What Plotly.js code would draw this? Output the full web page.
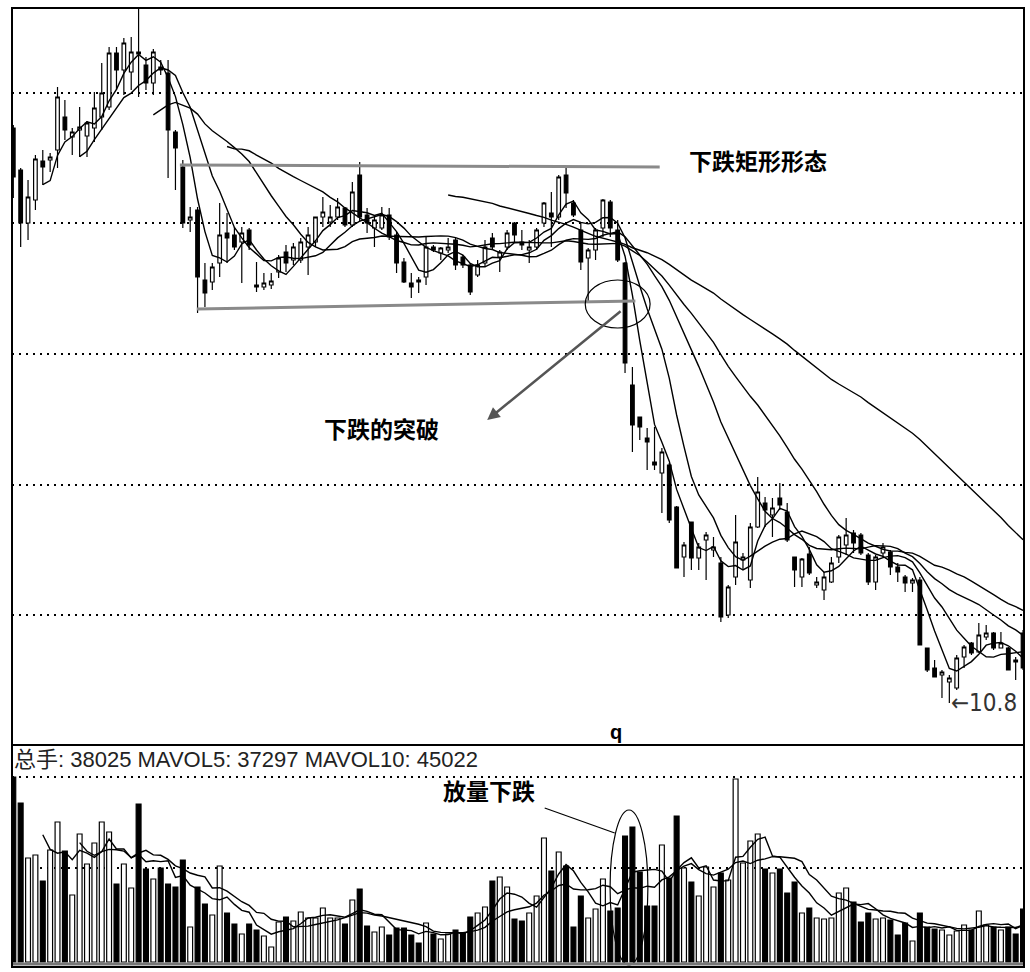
<!DOCTYPE html>
<html>
<head>
<meta charset="utf-8">
<script src="https://cdn.plot.ly/plotly-3.0.1.min.js"></script>
<style>html,body{margin:0;padding:0;background:#fff}</style>
</head>
<body>
<div id="chart" style="width:1030px;height:972px"></div>
<script>
// ---- data ----
const openP = [
16.55,16.13,15.60,15.83,16.22,16.23,16.33,16.66,16.46,16.53,
16.47,16.55,16.66,16.76,17.30,17.13,17.11,17.31,17.18,17.00,
17.16,17.10,16.51,16.16,15.63,15.73,15.03,15.01,15.20,15.50,
15.48,15.41,15.53,14.98,14.96,14.98,15.11,15.31,15.23,15.23,
15.36,15.41,15.66,15.61,15.66,15.75,15.58,16.08,15.68,15.55,
15.55,15.68,15.48,15.21,15.00,15.03,15.06,15.36,15.30,15.33,
15.43,15.26,15.18,15.08,15.20,15.45,15.26,15.36,15.60,15.41,
15.33,15.36,15.60,15.70,15.66,16.08,15.80,15.53,15.25,15.33,
15.55,15.81,15.53,15.20,13.98,13.66,13.45,13.21,13.10,13.18,
12.76,12.26,12.61,12.25,12.43,12.33,12.20,11.68,12.06,12.23,
12.03,12.56,12.80,12.68,12.85,12.71,12.26,12.06,12.29,11.98,
11.93,12.01,12.26,12.38,12.50,12.48,12.28,12.01,12.30,12.31,
12.16,12.06,12.00,12.03,11.35,11.15,11.08,11.01,10.95,11.26,
11.40,11.31,11.46,11.50,11.35,11.35,11.23,11.50];
const highP = [
16.58,16.15,16.03,16.28,16.33,16.30,16.96,16.83,16.55,16.76,
16.62,16.91,17.20,17.36,17.36,17.45,17.46,17.75,17.26,17.34,
17.23,17.23,16.53,16.23,15.76,15.76,15.20,15.20,15.80,15.70,
15.56,15.56,15.55,15.21,15.10,15.10,15.28,15.38,15.40,15.45,
15.56,15.66,15.86,15.78,15.85,15.76,16.01,16.21,15.75,15.66,
15.76,15.75,15.51,15.25,15.10,15.06,15.46,15.38,15.36,15.45,
15.45,15.28,15.20,15.23,15.43,15.50,15.33,15.53,15.61,15.53,
15.43,15.55,15.81,15.91,16.08,16.15,15.83,15.61,15.35,15.55,
15.84,15.83,15.63,15.21,14.16,13.66,13.55,13.56,13.35,13.20,
12.77,12.41,12.61,12.40,12.51,12.46,12.26,11.98,12.68,12.30,
12.60,13.06,12.86,12.85,13.00,12.80,12.26,12.25,12.36,12.06,
12.11,12.26,12.48,12.65,12.53,12.50,12.30,12.28,12.40,12.33,
12.20,12.08,12.05,12.06,11.35,11.23,11.13,11.08,11.28,11.38,
11.41,11.60,11.58,11.51,11.51,11.36,11.26,11.53];
const lowP = [
15.85,15.36,15.43,15.73,15.98,16.11,16.15,16.43,16.28,16.26,
16.26,16.41,16.53,16.73,16.93,16.88,16.93,16.86,16.93,16.88,
17.08,16.05,15.93,15.55,15.51,14.70,14.76,14.93,15.06,15.20,
15.33,15.00,15.33,14.91,14.93,14.94,15.05,15.11,15.18,15.20,
15.08,15.36,15.56,15.56,15.63,15.56,15.56,15.61,15.50,15.36,
15.53,15.43,15.10,15.00,14.85,14.90,14.98,15.31,15.23,15.30,
15.13,15.15,14.88,15.06,15.16,15.33,15.11,15.33,15.40,15.33,
15.20,15.33,15.56,15.36,15.63,15.75,15.66,15.13,14.81,15.23,
15.46,15.46,15.21,14.10,13.31,13.43,13.13,13.13,12.70,12.60,
12.15,12.06,12.13,12.13,12.03,12.26,11.61,11.65,11.98,12.13,
11.95,12.55,12.56,12.46,12.73,12.41,11.96,11.96,12.08,11.95,
11.83,12.00,12.20,12.28,12.30,12.28,11.98,11.93,12.26,12.08,
12.01,11.91,11.91,11.38,11.11,11.06,10.85,10.80,10.93,11.15,
11.28,11.30,11.43,11.33,11.35,11.13,11.03,11.13];
const closeP = [
16.06,15.60,15.86,16.24,16.16,16.26,16.86,16.53,16.51,16.56,
16.60,16.75,16.90,17.30,17.13,17.40,17.31,17.29,17.00,17.31,
17.13,16.53,16.35,15.60,15.66,15.06,14.90,15.16,15.48,15.45,
15.36,15.50,15.38,14.96,15.00,15.02,15.25,15.20,15.36,15.41,
15.48,15.66,15.71,15.66,15.76,15.58,15.91,15.66,15.60,15.63,
15.68,15.46,15.20,15.01,14.96,15.01,15.36,15.33,15.35,15.36,
15.18,15.18,14.91,15.18,15.36,15.36,15.31,15.50,15.48,15.38,
15.36,15.53,15.80,15.66,16.06,15.90,15.68,15.21,15.33,15.53,
15.83,15.55,15.23,14.20,13.58,13.56,13.41,13.18,13.31,12.63,
12.15,12.38,12.25,12.36,12.48,12.36,11.66,11.96,12.41,12.26,
12.56,12.91,12.73,12.75,12.78,12.43,12.13,12.24,12.10,12.01,
12.06,12.20,12.46,12.48,12.40,12.30,12.01,12.26,12.36,12.16,
12.11,12.00,12.03,11.38,11.13,11.06,11.11,11.05,11.25,11.36,
11.30,11.48,11.50,11.35,11.40,11.13,11.21,11.15];
const volume = [
133200,114480,74880,77040,58320,80640,100800,79920,48240,92160,
70560,85680,100800,93600,56160,70560,53280,113760,66960,59760,
67680,56160,54000,73440,25200,54000,41760,33840,69120,35280,
27360,20160,27360,23040,18720,10800,28800,32400,29520,36000,
31680,31680,38880,31680,31680,27360,44640,52560,25920,21600,
25200,19440,24480,24480,19440,13680,28080,20160,16560,20160,
23040,20880,32400,35280,39600,58320,61200,54000,30960,29520,
35280,47520,89280,65520,79200,69120,25200,47520,31680,38160,
59760,36720,38880,90720,97200,64800,40320,40320,84240,60480,
105120,67680,57600,47520,68400,54000,64080,59040,131760,71280,
87120,92160,66960,64080,66960,49680,57600,35280,38880,31680,
30960,31680,49680,53280,43200,28800,35280,30960,31680,30240,
19440,28080,15120,35280,25200,23760,23040,19440,22320,26640,
23040,36720,26640,25200,23040,25200,20160,38025];
const maPeriods = [5, 10, 20, 30, 60];
const volMaPeriods = [5, 10];
const priceGrid = [16.90, 15.60, 14.29, 12.98, 11.68];
const volGrid = [133200, 67680];
const headerText = '总手: 38025 MAVOL5: 37297 MAVOL10: 45022';

// ---- derived ----
const idx = closeP.map((_, i) => i);
function sma(arr, n) {
  return arr.map((_, i) => {
    if (i < n - 1) return null;
    let s = 0;
    for (let k = i - n + 1; k <= i; k++) s += arr[k];
    return s / n;
  });
}
const volColors = closeP.map((c, i) => c >= openP[i] ? '#ffffff' : '#000000');

const traces = [];
traces.push({
  type: 'candlestick', x: idx, open: openP, high: highP, low: lowP, close: closeP,
  xaxis: 'x', yaxis: 'y', hoverinfo: 'skip',
  increasing: {line: {color: '#000', width: 1.2}, fillcolor: '#fff'},
  decreasing: {line: {color: '#000', width: 1.2}, fillcolor: '#000'},
  whiskerwidth: 0, showlegend: false
});
maPeriods.forEach(p => traces.push({
  type: 'scatter', mode: 'lines', x: idx, y: sma(closeP, p), xaxis: 'x', yaxis: 'y',
  line: {color: '#000', width: 1.4}, hoverinfo: 'skip', showlegend: false
}));
traces.push({
  type: 'bar', x: idx, y: volume, xaxis: 'x', yaxis: 'y2', width: 0.66,
  marker: {color: volColors, line: {color: '#000', width: 1.2}}, hoverinfo: 'skip', showlegend: false
});
volMaPeriods.forEach(p => traces.push({
  type: 'scatter', mode: 'lines', x: idx, y: sma(volume, p), xaxis: 'x', yaxis: 'y2',
  line: {color: '#000', width: 1.4}, hoverinfo: 'skip', showlegend: false
}));

const split = 0.2315;
const layout = {
  width: 1030, height: 972,
  margin: {l: 12, r: 6, t: 8, b: 5, pad: 0},
  paper_bgcolor: '#fff', plot_bgcolor: '#fff',
  showlegend: false, bargap: 0,
  xaxis: {range: [-0.176, 137.13], showgrid: false, zeroline: false, showticklabels: false,
          ticks: '', showline: false, rangeslider: {visible: false}, fixedrange: true},
  yaxis: {domain: [split, 1], range: [10.38, 17.75], tickvals: priceGrid, showticklabels: false,
          ticks: '', showgrid: true, gridcolor: '#000', gridwidth: 1.3, griddash: '2px,5px',
          zeroline: false, showline: false},
  yaxis2: {domain: [0, split], range: [-3600, 156240], tickvals: volGrid, showticklabels: false,
           ticks: '', showgrid: true, gridcolor: '#000', gridwidth: 1.3, griddash: '2px,5px',
           zeroline: false, showline: false},
  shapes: [
    {type: 'line', xref: 'x', yref: 'y', x0: 22.6, y0: 16.18, x1: 87.7, y1: 16.16, line: {color: '#8a8a8a', width: 3}},
    {type: 'line', xref: 'x', yref: 'y', x0: 24.9, y0: 14.74, x1: 84.4, y1: 14.82, line: {color: '#8a8a8a', width: 3}},
    {type: 'circle', xref: 'x', yref: 'y', x0: 77.6, x1: 86.4, y0: 14.55, y1: 15.03, line: {color: '#000', width: 1.2}},
    {type: 'line', xref: 'x', yref: 'y2', x0: 72.1, y0: 110880, x1: 81.6, y1: 92880, line: {color: '#000', width: 1.2}},
    {type: 'circle', xref: 'x', yref: 'y2', x0: 80.97, x1: 86.1, y0: -2160, y1: 109440, line: {color: '#000', width: 1.2}},
    {type: 'line', xref: 'paper', yref: 'y2', x0: 0, x1: 1, y0: -1500, y1: -1500, line: {color: '#777', width: 3}},
    {type: 'rect', xref: 'paper', yref: 'paper', x0: 0, x1: 1, y0: 0, y1: 1, line: {color: '#000', width: 2}},
    {type: 'line', xref: 'paper', yref: 'paper', x0: 0, x1: 1, y0: split, y1: split, line: {color: '#000', width: 2}}
  ],
  annotations: [
    {xref: 'x', yref: 'y', x: 101.1, y: 16.23, text: '<b>下跌矩形形态</b>', showarrow: false,
     font: {family: 'Noto Sans CJK SC', size: 23, color: '#000'}},
    {xref: 'x', yref: 'y', x: 49.9, y: 13.55, text: '<b>下跌的突破</b>', showarrow: false,
     font: {family: 'Noto Sans CJK SC', size: 23, color: '#000'}},
    {xref: 'x', yref: 'y', x: 64.3, y: 13.63, ax: 82.6, ay: 14.73, axref: 'x', ayref: 'y',
     text: '', showarrow: true, arrowhead: 2, arrowsize: 1, arrowwidth: 2.5, arrowcolor: '#555'},
    {xref: 'x', yref: 'y', x: 81.8, y: 10.51, text: '<b>q</b>', showarrow: false,
     font: {family: 'Liberation Sans', size: 20, color: '#000'}},
    {xref: 'x', yref: 'y', x: 126.9, y: 10.80, xanchor: 'left', text: '←10.8', showarrow: false,
     font: {family: 'DejaVu Sans Condensed, Liberation Sans', size: 24, color: '#333'}},
    {xref: 'paper', yref: 'y2', x: 0, y: 145440, xanchor: 'left', text: headerText, showarrow: false,
     font: {family: 'Liberation Sans, Noto Sans CJK SC', size: 22, color: '#222'}},
    {xref: 'x', yref: 'y2', x: 64.5, y: 123840, text: '<b>放量下跌</b>', showarrow: false,
     font: {family: 'Noto Sans CJK SC', size: 23, color: '#000'}}
  ]
};
Plotly.newPlot('chart', traces, layout, {displayModeBar: false, staticPlot: true});
</script>
</body>
</html>
